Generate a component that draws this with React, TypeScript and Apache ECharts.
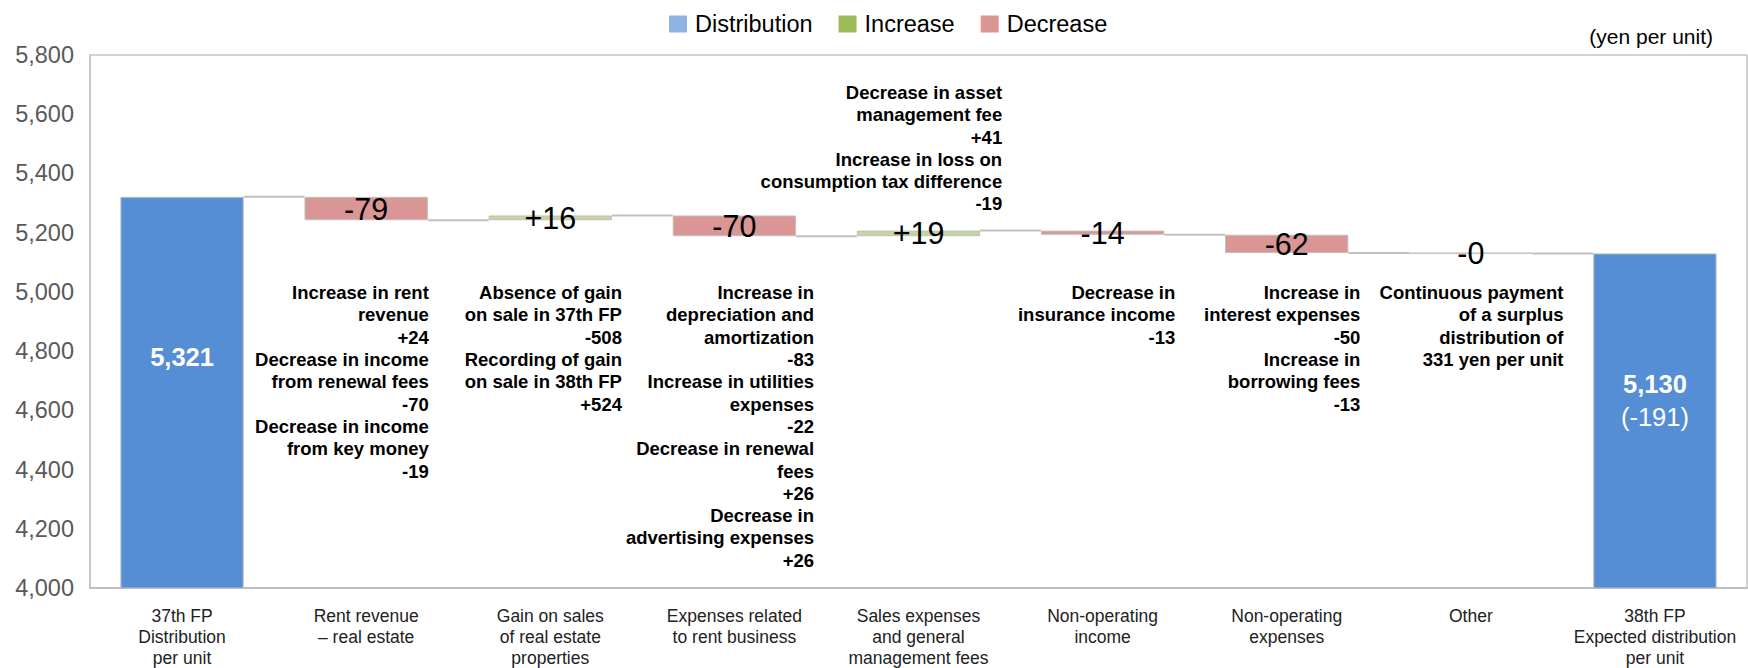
import React, { useEffect, useRef } from 'react';
import * as echarts from 'echarts';

const categories = [
  '37th FP\nDistribution\nper unit',
  'Rent revenue\n– real estate',
  'Gain on sales\nof real estate\nproperties',
  'Expenses related\nto rent business',
  'Sales expenses\nand general\nmanagement fees',
  'Non-operating\nincome',
  'Non-operating\nexpenses',
  'Other',
  '38th FP\nExpected distribution\nper unit',
];
const startValue = 5321;
const endValue = 5130;
const deltas = [-79, 16, -70, 19, -14, -62, -1];
const deltaLabels = ['-79', '+16', '-70', '+19', '-14', '-62', '-0'];
const yMin = 4000;
const yMax = 5800;
const yInterval = 200;

const annotationTexts = [
  'Increase in rent\nrevenue\n+24\nDecrease in income\nfrom renewal fees\n-70\nDecrease in income\nfrom key money\n-19',
  'Absence of gain\non sale in 37th FP\n-508\nRecording of gain\non sale in 38th FP\n+524',
  'Increase in\ndepreciation and\namortization\n-83\nIncrease in utilities\nexpenses\n-22\nDecrease in renewal\nfees\n+26\nDecrease in\nadvertising expenses\n+26',
  'Decrease in asset\nmanagement fee\n+41\nIncrease in loss on\nconsumption tax difference\n-19',
  'Decrease in\ninsurance income\n-13',
  'Increase in\ninterest expenses\n-50\nIncrease in\nborrowing fees\n-13',
  'Continuous payment\nof a surplus\ndistribution of\n331 yen per unit',
];
const annotationCategory = [1, 2, 3, 4, 5, 6, 7];
// layout (not data): anchor value for top of each text block, and pixel shift from bar right edge
const annotationTop = [5035, 5035, 5035, 5711, 5035, 5035, 5035];
const annotationDx = [1, 10, 18, 22, 11, 12, 31];

const BAR_RATIO = 0.67;
const FONT = '"Liberation Sans", Arial, Helvetica, sans-serif';

export default function App() {
  const ref = useRef<HTMLDivElement>(null);
  useEffect(() => {
    if (!ref.current) return;
    const chart = echarts.init(ref.current, null, { renderer: 'svg' });

    const levels: number[] = [startValue];
    deltas.forEach((d) => levels.push(levels[levels.length - 1] + d));
    const n = categories.length;

    const baseData: any[] = new Array(n).fill('-');
    const incData: any[] = new Array(n).fill('-');
    const decData: any[] = new Array(n).fill('-');
    deltas.forEach((d, k) => {
      const i = k + 1;
      baseData[i] = Math.min(levels[k], levels[k + 1]);
      if (d > 0) incData[i] = d;
      else decData[i] = -d;
    });

    const distData: any[] = new Array(n).fill('-');
    distData[0] = {
      value: startValue,
      label: {
        show: true,
        position: 'insideTop',
        distance: 147,
        formatter: startValue.toLocaleString('en-US'),
        color: '#fff',
        fontWeight: 'bold',
        fontSize: 25.5,
        fontFamily: FONT,
      },
    };
    const diff = endValue - startValue;
    distData[n - 1] = {
      value: endValue,
      label: {
        show: true,
        position: 'insideTop',
        distance: 114,
        formatter: `{b|${endValue.toLocaleString('en-US')}}\n{r|(${diff > 0 ? '+' : ''}${diff})}`,
        rich: {
          b: { color: '#fff', fontWeight: 'bold', fontSize: 25.5, lineHeight: 33, fontFamily: FONT },
          r: { color: '#fff', fontSize: 25.5, lineHeight: 33, fontFamily: FONT },
        },
      },
    };

    const deltaLabel = {
      show: true,
      position: 'inside',
      color: '#000',
      fontSize: 30.5,
      fontFamily: FONT,
      formatter: (p: any) => deltaLabels[p.dataIndex - 1],
    };
    const border = { borderColor: '#bfbfbf', borderWidth: 1 };

    const connectorData = levels.map((lv, i) => [i, lv]);
    const annData = annotationCategory.map((c, k) => [c, annotationTop[k]]);

    chart.setOption({
      animation: false,
      textStyle: { fontFamily: FONT },
      legend: {
        left: 664,
        top: 7,
        icon: 'rect',
        itemWidth: 18,
        itemHeight: 17,
        itemGap: 26,
        selectedMode: false,
        textStyle: { fontSize: 23.5, color: '#000', fontFamily: FONT, padding: [0, 0, 0, 3] },
        data: [
          { name: 'Distribution', itemStyle: { color: '#8EB4E3', borderWidth: 0 } },
          { name: 'Increase', itemStyle: { color: '#9BBB59', borderWidth: 0 } },
          { name: 'Decrease', itemStyle: { color: '#D99694', borderWidth: 0 } },
        ],
      },
      graphic: [
        {
          type: 'text',
          right: 35,
          top: 26,
          style: { text: '(yen per unit)', fontSize: 21, fill: '#000', fontFamily: FONT },
        },
      ],
      grid: {
        left: 90,
        right: 1,
        top: 55,
        bottom: 79,
        show: true,
        borderColor: '#a6a6a6',
        borderWidth: 1,
      },
      xAxis: {
        type: 'category',
        data: categories,
        axisTick: { show: false },
        axisLine: { show: true, lineStyle: { color: '#bfbfbf', width: 2 } },
        axisLabel: {
          interval: 0,
          margin: 17,
          fontSize: 17.5,
          lineHeight: 21,
          color: '#222',
          fontFamily: FONT,
        },
      },
      yAxis: {
        type: 'value',
        min: yMin,
        max: yMax,
        interval: yInterval,
        splitLine: { show: false },
        axisTick: { show: false },
        axisLine: { show: true, lineStyle: { color: '#c8c8c8', width: 2 } },
        axisLabel: {
          margin: 16,
          fontSize: 23.5,
          color: '#595959',
          fontFamily: FONT,
          formatter: (v: number) => v.toLocaleString('en-US'),
        },
      },
      series: [
        {
          name: 'connectors',
          type: 'custom',
          z: 1,
          silent: true,
          encode: { x: 0, y: 1 },
          data: connectorData,
          renderItem: (params: any, api: any) => {
            const i = api.value(0);
            const lv = api.value(1);
            if (i >= n - 1) return null;
            const p0 = api.coord([i, lv]);
            const p1 = api.coord([i + 1, lv]);
            const half = (api.size([1, 0])[0] * BAR_RATIO) / 2;
            return {
              type: 'line',
              shape: { x1: p0[0] + half, y1: p0[1], x2: p1[0] - half, y2: p1[1] },
              style: { stroke: '#bfbfbf', lineWidth: 2 },
            };
          },
        },
        {
          name: 'base',
          type: 'bar',
          stack: 'w',
          barWidth: '67%',
          barGap: '-100%',
          silent: true,
          itemStyle: { color: 'rgba(0,0,0,0)' },
          data: baseData,
        },
        {
          name: 'Increase',
          type: 'bar',
          stack: 'w',
          barWidth: '67%',
          barGap: '-100%',
          itemStyle: { color: '#C4D79B', ...border },
          label: deltaLabel,
          data: incData,
          z: 3,
        },
        {
          name: 'Decrease',
          type: 'bar',
          stack: 'w',
          barWidth: '67%',
          barGap: '-100%',
          itemStyle: { color: '#D99694', ...border },
          label: deltaLabel,
          data: decData,
          z: 3,
        },
        {
          name: 'Distribution',
          type: 'bar',
          barWidth: '67%',
          barGap: '-100%',
          itemStyle: { color: '#558ED5', ...border },
          data: distData,
          z: 3,
        },
        {
          name: 'annotations',
          type: 'custom',
          z: 10,
          silent: true,
          encode: { x: 0, y: 1 },
          data: annData,
          renderItem: (params: any, api: any) => {
            const k = params.dataIndex;
            const p = api.coord([api.value(0), api.value(1)]);
            const half = (api.size([1, 0])[0] * BAR_RATIO) / 2;
            return {
              type: 'text',
              x: p[0] + half + annotationDx[k],
              y: p[1],
              style: {
                text: annotationTexts[k],
                fill: '#000',
                fontSize: 18.5,
                fontWeight: 'bold',
                fontFamily: FONT,
                align: 'right',
                verticalAlign: 'top',
                lineHeight: 22.3,
              },
            };
          },
        },
      ],
    });
    return () => chart.dispose();
  }, []);
  return (
    <div
      ref={ref}
      style={{ position: 'absolute', left: 0, top: 0, width: 1748, height: 668 }}
    />
  );
}
